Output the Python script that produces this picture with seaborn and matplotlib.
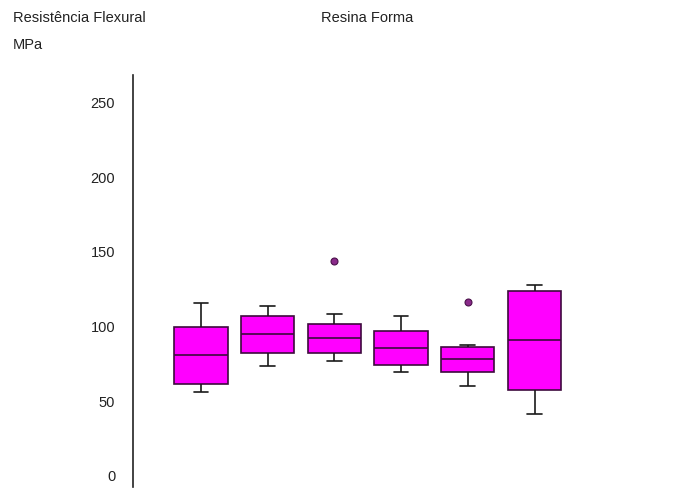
import matplotlib
matplotlib.use("Agg")
import matplotlib.pyplot as plt
import seaborn as sns
import pandas as pd

# Data (MPa)
groups = ["1", "2", "3", "4", "5", "6"]
whisker_low = [56.2, 73.4, 77.2, 69.6, 60.2, 41.5]
q1 = [61.8, 82.6, 82.6, 74.3, 69.4, 57.4]
median = [81.1, 95.0, 92.2, 85.7, 78.1, 91.2]
q3 = [99.7, 107.1, 101.7, 97.1, 86.3, 124.0]
whisker_high = [115.8, 113.8, 108.2, 107.1, 87.5, 127.8]
outliers = [None, None, 143.9, None, 116.5, None]

y_ticks = [0, 50, 100, 150, 200, 250]

rows = []
for g, lo, a, m, b, hi, out in zip(groups, whisker_low, q1, median, q3, whisker_high, outliers):
    vals = [lo, a, a, m, m, b, b, hi, out if out is not None else hi]
    for v in vals:
        rows.append({"grupo": g, "valor": v})
df = pd.DataFrame(rows)

sns.set_style("white")
plt.rcParams["font.family"] = ["Liberation Sans", "DejaVu Sans"]

fig = plt.figure(figsize=(6.83, 4.91), dpi=100)
ax = fig.add_axes([133.3 / 683, 4 / 491, (620 - 133.3) / 683, (487 - 75) / 491])

edge = "#3d0a3d"
sns.boxplot(
    data=df, x="grupo", y="valor", order=groups, ax=ax,
    color="#ff00ff", saturation=1, width=0.8, linewidth=1.2, linecolor=edge,
    boxprops=dict(facecolor="#ff00ff", edgecolor=edge),
    medianprops=dict(color=edge, linewidth=1.2),
    whiskerprops=dict(color="#1a1a1a", linewidth=1.2),
    capprops=dict(color="#1a1a1a", linewidth=1.2),
    flierprops=dict(marker="o", markerfacecolor="#8a2a8a", markeredgecolor="#4a104a",
                    markersize=5, markeredgewidth=0.8),
    capwidths=0.22,
)

ax.set_xlim(-1.015, -1.015 + 486.7 / 66.7)
ax.set_ylim(-7.4, 268.4)
ax.set_yticks(y_ticks)
ax.set_yticklabels([str(t) for t in y_ticks], fontsize=10.5, color="#222222")
ax.tick_params(axis="y", length=0, pad=13)
ax.set_xticks([])
ax.set_xlabel("")
ax.set_ylabel("")
for s in ["top", "right", "bottom"]:
    ax.spines[s].set_visible(False)
ax.spines["left"].set_color("#222222")
ax.spines["left"].set_linewidth(1.2)

fig.text(13 / 683, 1 - 18 / 491, "Resistência Flexural", fontsize=10.5, va="center", ha="left", color="#222222")
fig.text(13 / 683, 1 - 45 / 491, "MPa", fontsize=10.5, va="center", ha="left", color="#222222")
fig.text(321 / 683, 1 - 18 / 491, "Resina Forma", fontsize=10.5, va="center", ha="left", color="#222222")

fig.savefig("out.png", dpi=100)
